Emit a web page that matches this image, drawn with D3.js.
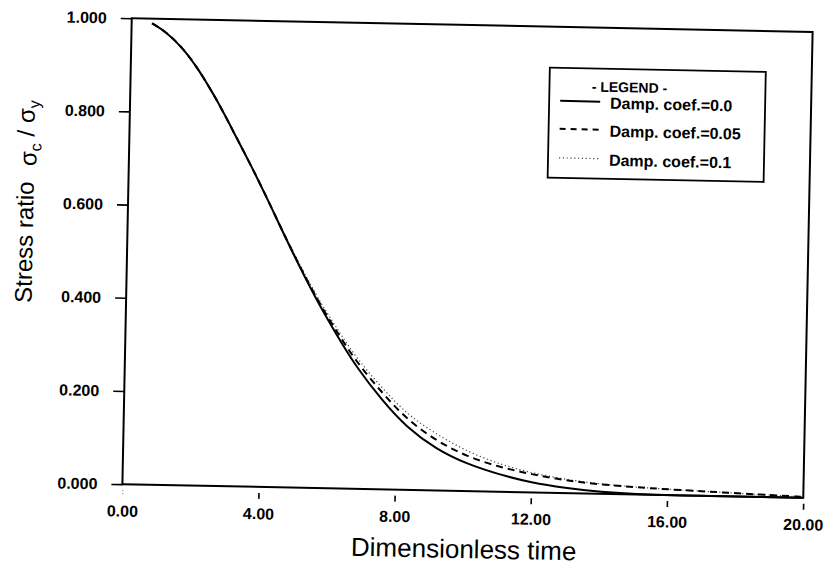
<!DOCTYPE html>
<html>
<head>
<meta charset="utf-8">
<script src="https://cdn.jsdelivr.net/npm/d3@7"></script>
<style>
body{margin:0;background:#fff;}
svg text{font-family:"Liberation Sans",Arial,Helvetica,sans-serif;fill:#000;}
</style>
</head>
<body>
<script>
// values
const time=[0.6,1.0,1.5,2.0,2.6,3.0,3.6,4.1,4.8,5.6,6.2,6.8,7.6,8.3,9.2,10.1,11.1,12.0,13.0,14.0,15.4,17.3,18.8,20.0];
const ratioDamp0=[0.990,0.973,0.940,0.893,0.822,0.768,0.688,0.617,0.512,0.402,0.330,0.261,0.189,0.135,0.088,0.058,0.036,0.021,0.011,0.004,0,0,0,0];
const ratioDamp005=[0.990,0.973,0.940,0.893,0.822,0.768,0.688,0.617,0.513,0.405,0.337,0.272,0.205,0.152,0.106,0.074,0.052,0.039,0.027,0.020,0.014,0.009,0.005,0.002];
const ratioDamp01=[0.990,0.973,0.940,0.893,0.822,0.768,0.688,0.617,0.515,0.410,0.344,0.280,0.215,0.163,0.120,0.085,0.058,0.042,0.029,0.021,0.014,0.009,0.005,0.002];
const xTicks=[0,4,8,12,16,20];
const yTicks=[0,0.2,0.4,0.6,0.8,1];
const legendLabels=["Damp. coef.=0.0","Damp. coef.=0.05","Damp. coef.=0.1"];

const W=826,H=568;
const pLeft=127,pRight=808,pTop=25,pBottom=491;

const svg=d3.select("body").append("svg")
    .attr("width",W).attr("height",H)
    .style("background","#fff");

// the scan is tilted a little, so tilt the whole drawing the same way
const g=svg.append("g").attr("transform","rotate(1.15,466,258)");

const x=d3.scaleLinear().domain([0,20]).range([pLeft,pRight]);
const y=d3.scaleLinear().domain([0,1]).range([pBottom,pTop]);

// y axis
const yAxis=d3.axisLeft(y).tickValues(yTicks).tickFormat(d3.format(".3f")).tickSize(11).tickPadding(14);
g.append("g").attr("transform","translate("+pLeft+",0)").call(yAxis)
  .call(a=>a.select(".domain").remove())
  .call(a=>a.selectAll("line").attr("stroke","#000").attr("stroke-width",1.6))
  .call(a=>a.selectAll("text").style("font-size","16px").style("font-weight","bold"));

// x axis, ticks sit a little below the frame
const xAxis=d3.axisBottom(x).tickValues(xTicks).tickFormat(d3.format(".2f")).tickSize(12).tickPadding(9);
g.append("g").attr("transform","translate(0,"+pBottom+")").call(xAxis)
  .call(a=>a.select(".domain").remove())
  .call(a=>a.selectAll("line").attr("y1",6).attr("stroke","#000").attr("stroke-width",1.6))
  .call(a=>a.selectAll(".tick").filter(d=>d===0).select("line").attr("stroke","#999").attr("stroke-dasharray","1,2"))
  .call(a=>a.selectAll("text").style("font-size","16px").style("font-weight","bold"));

// frame
g.append("rect").attr("x",pLeft).attr("y",pTop)
  .attr("width",pRight-pLeft).attr("height",pBottom-pTop)
  .attr("fill","none").attr("stroke","#000").attr("stroke-width",2);

// curves
const line=(vals)=>d3.line().x((d,i)=>x(time[i])).y(d=>y(d)).curve(d3.curveBasis)(vals);

g.append("path").attr("d",line(ratioDamp01))
  .attr("fill","none").attr("stroke","#444").attr("stroke-width",1.2).attr("stroke-dasharray","1.2,2.6");
g.append("path").attr("d",line(ratioDamp005))
  .attr("fill","none").attr("stroke","#000").attr("stroke-width",2).attr("stroke-dasharray","7,5");
g.append("path").attr("d",line(ratioDamp0))
  .attr("fill","none").attr("stroke","#000").attr("stroke-width",2);

// axis titles
g.append("text").attr("x",(pLeft+pRight)/2+2).attr("y",558)
  .attr("text-anchor","middle").style("font-size","26px").text("Dimensionless time");

g.append("text").attr("transform","translate(24,251) rotate(-90)")
  .attr("text-anchor","middle").attr("dy","0.35em").style("font-size","24px").text("Stress ratio");

const sig=g.append("text").attr("transform","translate(26,142) rotate(-90)")
  .attr("text-anchor","middle").attr("dy","0.35em").style("font-size","24px");
sig.append("tspan").text("σ");
sig.append("tspan").attr("dy","0.3em").style("font-size","16px").text("c");
sig.append("tspan").attr("dy","-0.3em").text(" / σ");
sig.append("tspan").attr("dy","0.3em").style("font-size","16px").text("y");

// legend
const lg=g.append("g");
lg.append("rect").attr("x",546).attr("y",66).attr("width",216).attr("height",110)
  .attr("fill","#fff").attr("stroke","#000").attr("stroke-width",1.8);
lg.append("text").attr("x",626).attr("y",89).attr("text-anchor","middle")
  .style("font-size","14px").style("font-weight","bold").text("- LEGEND -");

const styles=[
  {stroke:"#000",w:2,dash:null},
  {stroke:"#000",w:2,dash:"6,5"},
  {stroke:"#444",w:1.2,dash:"1.2,2.6"}
];
const rowY=[100,128,157];
legendLabels.forEach((lab,i)=>{
  lg.append("line").attr("x1",557).attr("x2",597).attr("y1",rowY[i]-1).attr("y2",rowY[i]-1)
    .attr("stroke",styles[i].stroke).attr("stroke-width",styles[i].w)
    .attr("stroke-dasharray",styles[i].dash);
  lg.append("text").attr("x",607).attr("y",rowY[i]+6)
    .style("font-size","16px").style("font-weight","bold").text(lab);
});
</script>
</body>
</html>
